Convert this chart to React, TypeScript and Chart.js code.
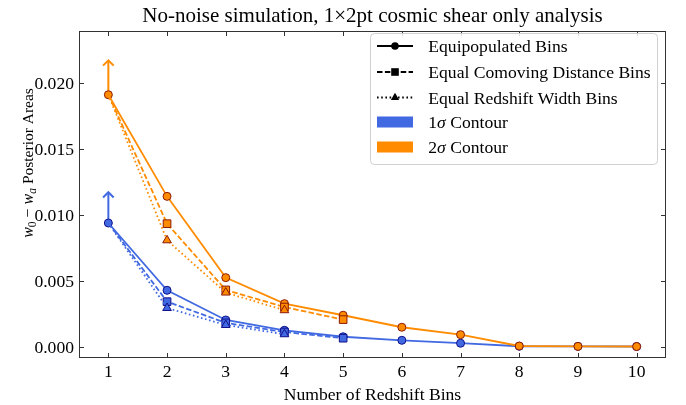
import React, { useEffect, useRef } from 'react';
import { Chart, registerables } from 'chart.js';

Chart.register(...registerables);

// ---------------- data ----------------
const bins = [1, 2, 3, 4, 5, 6, 7, 8, 9, 10];

const equipop1Sigma = [0.00937, 0.00427, 0.00202, 0.00124, 0.00075, 0.00048, 0.00026, 0.00003, 0.00002, 0.00001];
const comoving1Sigma = [0.00937, 0.00341, 0.0018, 0.00111, 0.00064];
const redshift1Sigma = [0.00937, 0.00293, 0.00164, 0.00094];

const equipop2Sigma = [0.01909, 0.01139, 0.00523, 0.00326, 0.00238, 0.00147, 0.00091, 0.00005, 0.00002, 0.00001];
const comoving2Sigma = [0.01909, 0.00932, 0.0043, 0.003, 0.00205];
const redshift2Sigma = [0.01909, 0.00806, 0.0041, 0.00276];

const arrowTip1Sigma = 0.0117;
const arrowTip2Sigma = 0.0217;

const xTickValues = [1, 2, 3, 4, 5, 6, 7, 8, 9, 10];
const xTickLabels = ['1', '2', '3', '4', '5', '6', '7', '8', '9', '10'];
const yTickValues = [0, 0.005, 0.01, 0.015, 0.02];
const yTickLabels = ['0.000', '0.005', '0.010', '0.015', '0.020'];

const titleText = 'No-noise simulation, 1\u00d72pt cosmic shear only analysis';
const xTitleText = 'Number of Redshift Bins';
const seriesLabels = ['Equipopulated Bins', 'Equal Comoving Distance Bins', 'Equal Redshift Width Bins'];
const contourLabels = ['1', '2'];

// ---------------- style ----------------
const BLUE = '#4169E1';
const ORANGE = '#FF8C00';
const BLUE_EDGE = '#10108a';
const ORANGE_EDGE = '#8b1a08';
const SERIF = '"Liberation Serif", "Times New Roman", Times, serif';
const font = (size: number, italic = false) => `${italic ? 'italic ' : ''}${size}px ${SERIF}`;

type Seg = { t: string; size: number; italic?: boolean; dy?: number };

function segsWidth(ctx: CanvasRenderingContext2D, segs: Seg[]) {
  let w = 0;
  for (const s of segs) {
    ctx.font = font(s.size, s.italic);
    w += ctx.measureText(s.t).width;
  }
  return w;
}

function drawSegs(ctx: CanvasRenderingContext2D, segs: Seg[], x: number, y: number) {
  let cx = x;
  ctx.textAlign = 'left';
  ctx.textBaseline = 'alphabetic';
  for (const s of segs) {
    ctx.font = font(s.size, s.italic);
    ctx.fillText(s.t, cx, y + (s.dy || 0));
    cx += ctx.measureText(s.t).width;
  }
}

function series(
  label: string,
  vals: number[],
  color: string,
  edge: string,
  dash: number[],
  style: string,
  radius: number,
  order: number,
  hideFirst: boolean
) {
  return {
    label,
    data: vals.map((v, i) => ({ x: bins[i], y: v })),
    borderColor: color,
    backgroundColor: color,
    borderWidth: 1.8,
    borderDash: dash,
    pointStyle: style,
    pointRadius: vals.map((_, i) => (hideFirst && i === 0 ? 0 : radius)),
    pointHoverRadius: vals.map((_, i) => (hideFirst && i === 0 ? 0 : radius)),
    pointBackgroundColor: color,
    pointBorderColor: edge,
    pointBorderWidth: 1,
    tension: 0,
    fill: false,
    order,
  };
}

const DASH = [5.5, 2.4];
const DOT = [1.6, 2.6];

function drawMarker(ctx: CanvasRenderingContext2D, style: string, x: number, y: number) {
  ctx.beginPath();
  if (style === 'circle') {
    ctx.arc(x, y, 3.8, 0, Math.PI * 2);
  } else if (style === 'rect') {
    ctx.rect(x - 3.8, y - 3.8, 7.6, 7.6);
  } else {
    const r = 4.8;
    ctx.moveTo(x, y - r);
    ctx.lineTo(x + r * Math.cos(Math.PI / 6), y + r / 2);
    ctx.lineTo(x - r * Math.cos(Math.PI / 6), y + r / 2);
    ctx.closePath();
  }
  ctx.fill();
}

const decorPlugin = {
  id: 'decor',
  beforeDatasetsDraw(chart: any) {
    const ctx: CanvasRenderingContext2D = chart.ctx;
    const xs = chart.scales.x;
    const ys = chart.scales.y;
    const arrows: [number, number, string][] = [
      [equipop1Sigma[0], arrowTip1Sigma, BLUE],
      [equipop2Sigma[0], arrowTip2Sigma, ORANGE],
    ];
    ctx.save();
    for (const [base, tip, col] of arrows) {
      const px = xs.getPixelForValue(bins[0]);
      const y0 = ys.getPixelForValue(base);
      const y1 = ys.getPixelForValue(tip);
      ctx.strokeStyle = col;
      ctx.lineWidth = 2;
      ctx.lineCap = 'butt';
      ctx.beginPath();
      ctx.moveTo(px, y0);
      ctx.lineTo(px, y1 + 1);
      ctx.stroke();
      ctx.beginPath();
      ctx.moveTo(px - 5.3, y1 + 5.3);
      ctx.lineTo(px, y1);
      ctx.lineTo(px + 5.3, y1 + 5.3);
      ctx.stroke();
    }
    ctx.restore();
  },
  afterDatasetsDraw(chart: any) {
    const ctx: CanvasRenderingContext2D = chart.ctx;
    const { left, right, top, bottom } = chart.chartArea;
    const xs = chart.scales.x;
    const ys = chart.scales.y;
    ctx.save();

    // frame
    ctx.strokeStyle = '#333';
    ctx.lineWidth = 1;
    ctx.strokeRect(left + 0.5, top + 0.5, right - left - 1, bottom - top - 1);

    // ticks (inward, all four sides)
    const TL = 5;
    ctx.beginPath();
    for (const v of xTickValues) {
      const px = Math.round(xs.getPixelForValue(v)) + 0.5;
      ctx.moveTo(px, bottom);
      ctx.lineTo(px, bottom - TL);
      ctx.moveTo(px, top);
      ctx.lineTo(px, top + TL);
    }
    for (const v of yTickValues) {
      const py = Math.round(ys.getPixelForValue(v)) + 0.5;
      ctx.moveTo(left, py);
      ctx.lineTo(left + TL, py);
      ctx.moveTo(right, py);
      ctx.lineTo(right - TL, py);
    }
    ctx.stroke();

    // tick labels
    ctx.fillStyle = '#000';
    ctx.font = font(17.6);
    ctx.textAlign = 'center';
    ctx.textBaseline = 'alphabetic';
    xTickValues.forEach((v, i) => {
      ctx.fillText(xTickLabels[i], xs.getPixelForValue(v), bottom + 19);
    });
    ctx.textAlign = 'right';
    yTickValues.forEach((v, i) => {
      ctx.fillText(yTickLabels[i], left - 5, ys.getPixelForValue(v) + 6);
    });

    // x title
    ctx.textAlign = 'center';
    ctx.font = font(17.6);
    ctx.fillText(xTitleText, (left + right) / 2, bottom + 42);

    // title
    ctx.font = font(21);
    ctx.fillText(titleText, (left + right) / 2, top - 9);

    // y title
    const ySegs: Seg[] = [
      { t: 'w', size: 16, italic: true },
      { t: '0', size: 11.5, dy: 3 },
      { t: ' \u2212 ', size: 16 },
      { t: 'w', size: 16, italic: true },
      { t: 'a', size: 11.5, italic: true, dy: 3 },
      { t: ' Posterior Areas', size: 15.5 },
    ];
    ctx.save();
    ctx.translate(33, 163);
    ctx.rotate(-Math.PI / 2);
    const yw = segsWidth(ctx, ySegs);
    drawSegs(ctx, ySegs, -yw / 2, 0);
    ctx.restore();

    // legend
    const lx = 370.5, ly = 33.5, lw = 287, lh = 131;
    ctx.save();
    ctx.beginPath();
    const r = 4;
    ctx.moveTo(lx + r, ly);
    ctx.lineTo(lx + lw - r, ly);
    ctx.arcTo(lx + lw, ly, lx + lw, ly + r, r);
    ctx.lineTo(lx + lw, ly + lh - r);
    ctx.arcTo(lx + lw, ly + lh, lx + lw - r, ly + lh, r);
    ctx.lineTo(lx + r, ly + lh);
    ctx.arcTo(lx, ly + lh, lx, ly + lh - r, r);
    ctx.lineTo(lx, ly + r);
    ctx.arcTo(lx, ly, lx + r, ly, r);
    ctx.closePath();
    ctx.fillStyle = 'rgba(255,255,255,0.85)';
    ctx.fill();
    ctx.strokeStyle = '#d0d0d0';
    ctx.lineWidth = 1;
    ctx.stroke();
    ctx.restore();

    const hx0 = 377, hx1 = 413, tx = 428.3;
    const rowY = [46, 72, 97.5, 122, 147];
    const styles = ['circle', 'rect', 'triangle'];
    const dashes = [[], DASH, DOT];
    for (let i = 0; i < 3; i++) {
      const y = rowY[i];
      ctx.strokeStyle = '#000';
      ctx.fillStyle = '#000';
      ctx.lineWidth = 1.8;
      ctx.setLineDash(dashes[i]);
      ctx.beginPath();
      ctx.moveTo(hx0, y);
      ctx.lineTo(hx1, y);
      ctx.stroke();
      ctx.setLineDash([]);
      drawMarker(ctx, styles[i], (hx0 + hx1) / 2, y);
      ctx.font = font(17.6);
      ctx.textAlign = 'left';
      ctx.fillText(seriesLabels[i], tx, y + 6);
    }
    const patchColors = [BLUE, ORANGE];
    for (let i = 0; i < 2; i++) {
      const y = rowY[3 + i];
      ctx.fillStyle = patchColors[i];
      ctx.fillRect(hx0, y - 5.5, hx1 - hx0, 11);
      ctx.fillStyle = '#000';
      drawSegs(
        ctx,
        [
          { t: contourLabels[i], size: 17.6 },
          { t: '\u03c3', size: 17.6, italic: true },
          { t: ' Contour', size: 17.6 },
        ],
        tx,
        y + 6
      );
    }

    ctx.restore();
  },
};

export default function App() {
  const ref = useRef<HTMLCanvasElement>(null);

  useEffect(() => {
    const canvas = ref.current;
    if (!canvas) return;
    const chart = new Chart(canvas, {
      type: 'line',
      data: {
        datasets: [
          series('1s equipop', equipop1Sigma, BLUE, BLUE_EDGE, [], 'circle', 4, 6, false),
          series('1s comoving', comoving1Sigma, BLUE, BLUE_EDGE, DASH, 'rect', 5.4, 5, true),
          series('1s redshift', redshift1Sigma, BLUE, BLUE_EDGE, DOT, 'triangle', 5, 4, true),
          series('2s equipop', equipop2Sigma, ORANGE, ORANGE_EDGE, [], 'circle', 4, 3, false),
          series('2s comoving', comoving2Sigma, ORANGE, ORANGE_EDGE, DASH, 'rect', 5.4, 2, true),
          series('2s redshift', redshift2Sigma, ORANGE, ORANGE_EDGE, DOT, 'triangle', 5, 1, true),
        ] as any,
      },
      options: {
        responsive: false,
        maintainAspectRatio: false,
        devicePixelRatio: 1,
        animation: false,
        layout: { padding: { left: 79, right: 20, top: 31, bottom: 47 } },
        scales: {
          x: { type: 'linear', min: 0.5, max: 10.5, display: false },
          y: { type: 'linear', min: -0.00086, max: 0.02392, display: false },
        },
        plugins: {
          legend: { display: false },
          title: { display: false },
          tooltip: { enabled: false },
        },
        events: [],
      },
      plugins: [decorPlugin],
    });
    return () => chart.destroy();
  }, []);

  return (
    <canvas
      ref={ref}
      width={686}
      height={405}
      style={{ position: 'absolute', left: 0, top: 0, width: 686, height: 405, background: '#fff' }}
    />
  );
}
